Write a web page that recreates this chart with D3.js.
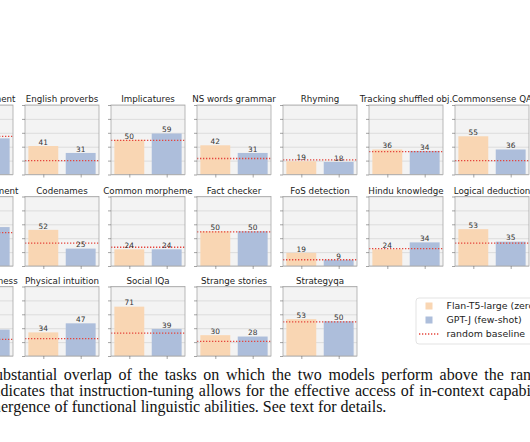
<!DOCTYPE html>
<html>
<head>
<meta charset="utf-8">
<script src="https://cdn.jsdelivr.net/npm/d3@7"></script>
<style>
  html, body { margin: 0; padding: 0; background: #fff; }
  svg { display: block; }
</style>
</head>
<body>
<div id="chart"></div>
<script>
// ---- data ----
const tasks = [
  "Causal judgement", "English proverbs", "Implicatures", "NS words grammar", "Rhyming", "Tracking shuffled obj.", "Commonsense QA",
  "Analytic entailment", "Codenames", "Common morpheme", "Fact checker", "FoS detection", "Hindu knowledge", "Logical deduction",
  "Question freshness", "Physical intuition", "Social IQa", "Strange stories", "Strategyqa"
];
const flanT5 = [45, 41, 50, 42, 19, 36, 55, 50, 52, 24, 50, 19, 24, 53, 30, 34, 71, 30, 53];
const gptJ   = [52, 31, 59, 31, 18, 34, 36, 56, 25, 24, 50, 9, 34, 35, 38, 47, 39, 28, 50];
const randomBaseline = [55, 20, 49, 23, 21, 33, 20, 48, 33, 27, 49, 9, 25, 33, 24, 25, 33, 21, 49];
const seriesNames = ["Flan-T5-large (zero-shot)", "GPT-J (few-shot)"];
const baselineName = "random baseline";
const yTicks = [0, 20, 40, 60, 80, 100];
const captionLines = [
  "substantial overlap of the tasks on which the two models perform above the random",
  "indicates that instruction-tuning allows for the effective access of in-context capabilities",
  "emergence of functional linguistic abilities. See text for details."
];

// ---- layout ----
const W = 530, H = 442;
const colLeft0 = -61, colStep = 86, axW = 74;
const rowTop = [105, 196.5, 286.5], axH = 69.5;
const colors = ["#f9d6b3", "#adbedb"];
const baseColor = "#e5453d";

const svg = d3.select("#chart").append("svg").attr("width", W).attr("height", H);

const x = d3.scaleLinear().domain([-0.49, 1.49]).range([0, axW]);
const y = d3.scaleLinear().domain([0, 100]).range([axH, 0]);
const bw = x(0.8) - x(0);

tasks.forEach((t, i) => {
  const row = Math.floor(i / 7), col = i % 7;
  const g = svg.append("g").attr("transform", `translate(${colLeft0 + col * colStep},${rowTop[row]})`);
  g.append("rect").attr("width", axW).attr("height", axH).attr("fill", "#f3f3f3");
  // grid
  g.append("g").call(d3.axisLeft(y).tickValues(yTicks).tickSize(-axW).tickFormat(""))
    .call(a => a.select(".domain").remove())
    .call(a => a.selectAll("line").attr("stroke", "#d6d6d6").attr("stroke-width", 0.8));
  // bars
  const vals = [flanT5[i], gptJ[i]];
  g.selectAll("rect.bar").data(vals).enter().append("rect").attr("class", "bar")
    .attr("x", (d, k) => x(k) - bw / 2).attr("width", bw)
    .attr("y", d => y(d)).attr("height", d => y(0) - y(d))
    .attr("fill", (d, k) => colors[k]);
  // baseline
  g.append("line").attr("x1", 0).attr("x2", axW)
    .attr("y1", y(randomBaseline[i])).attr("y2", y(randomBaseline[i]))
    .attr("stroke", baseColor).attr("stroke-width", 1.3).attr("stroke-dasharray", "1.3,1.7");
  // labels
  g.selectAll("text.val").data(vals).enter().append("text").attr("class", "val")
    .attr("x", (d, k) => x(k)).attr("y", d => y(d) - 1.2)
    .attr("text-anchor", "middle").attr("font-family", "DejaVu Sans").attr("font-size", 7.4)
    .attr("fill", "#333").text(d => d);
  // spines
  g.append("rect").attr("width", axW).attr("height", axH).attr("fill", "none")
    .attr("stroke", "#a8a8a8").attr("stroke-width", 0.8);
  // ticks
  g.append("g").call(d3.axisLeft(y).tickValues(yTicks).tickSize(3).tickFormat(""))
    .call(a => a.select(".domain").remove())
    .call(a => a.selectAll("line").attr("stroke", "#666").attr("stroke-width", 0.6));
  g.append("g").attr("transform", `translate(0,${axH})`)
    .call(d3.axisBottom(x).tickValues([0, 1]).tickSize(3).tickFormat(""))
    .call(a => a.select(".domain").remove())
    .call(a => a.selectAll("line").attr("stroke", "#666").attr("stroke-width", 0.6));
  // title
  g.append("text").attr("x", axW / 2).attr("y", -3).attr("text-anchor", "middle")
    .attr("font-family", "DejaVu Sans").attr("font-size", 8.7).attr("fill", "#222").text(t);
});

// ---- legend ----
const lg = svg.append("g").attr("transform", "translate(416,298)");
lg.append("rect").attr("width", 130).attr("height", 46).attr("rx", 3)
  .attr("fill", "#fff").attr("stroke", "#dcdcdc").attr("stroke-width", 0.8);
const entries = [...seriesNames, baselineName];
entries.forEach((name, k) => {
  const cy = 8 + k * 14;
  if (k < 2) {
    lg.append("rect").attr("x", 9.5).attr("y", cy - 3.5).attr("width", 7).attr("height", 7).attr("fill", colors[k]);
  } else {
    lg.append("line").attr("x1", 3).attr("x2", 22.5).attr("y1", cy).attr("y2", cy)
      .attr("stroke", baseColor).attr("stroke-width", 1.3).attr("stroke-dasharray", "1.3,1.7");
  }
  lg.append("text").attr("x", 30.5).attr("y", cy).attr("dy", "0.35em")
    .attr("font-family", "DejaVu Sans").attr("font-size", 9.4).attr("fill", "#222").text(name);
});

// ---- caption (cropped at left edge, justified lines) ----
const capFont = 16;
const hidden = ["su", "in", "em"];
const hiddenShift = [3, 0.5, 1];
const cutAt = ["above the ran", "in-context capabi", null];
const capY = [380, 396, 411.5];
function measure(s, ws) {
  const tmp = svg.append("text").attr("font-family", "Liberation Serif").attr("font-size", capFont)
    .attr("word-spacing", ws || 0).attr("xml:space", "preserve").text(s);
  const w = tmp.node().getComputedTextLength();
  tmp.remove();
  return w;
}
captionLines.forEach((line, k) => {
  const x0 = -measure(hidden[k]) + hiddenShift[k];
  let ws = 0;
  if (cutAt[k]) {
    const sub = line.slice(0, line.indexOf(cutAt[k]) + cutAt[k].length);
    const nat = measure(sub);
    const spaces = (sub.match(/ /g) || []).length;
    ws = (531 - x0 - nat) / spaces;
  }
  svg.append("text").attr("x", x0).attr("y", capY[k]).attr("word-spacing", ws)
    .attr("font-family", "Liberation Serif").attr("font-size", capFont).attr("fill", "#111").text(line);
});
</script>
</body>
</html>
